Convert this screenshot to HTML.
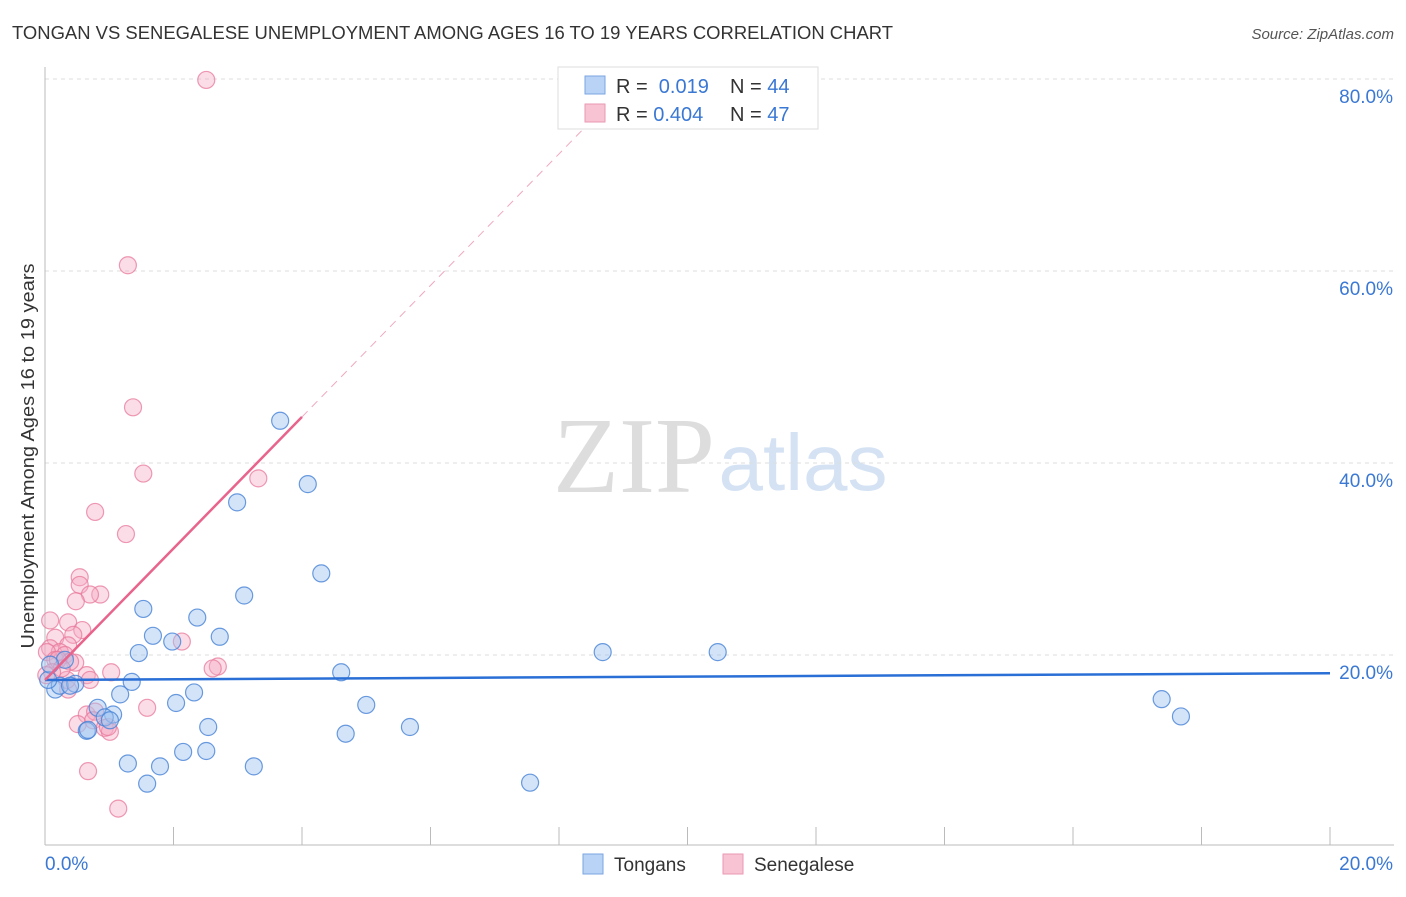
<!DOCTYPE html>
<html><head><meta charset="utf-8"><style>
body{margin:0;background:#fff;font-family:"Liberation Sans",sans-serif;}
</style></head><body>
<svg id="c" width="1406" height="892" xmlns="http://www.w3.org/2000/svg" style="font-family:'Liberation Sans',sans-serif">
<text x="12" y="39" font-size="18" fill="#333" textLength="881" lengthAdjust="spacingAndGlyphs">TONGAN VS SENEGALESE UNEMPLOYMENT AMONG AGES 16 TO 19 YEARS CORRELATION CHART</text>
<text x="1394" y="39" font-size="15" fill="#555" font-style="italic" text-anchor="end">Source: ZipAtlas.com</text>
<text x="634" y="492" font-size="108" fill="#ddd" font-family="Liberation Serif,serif" text-anchor="middle">ZIP</text>
<text x="803" y="490" font-size="80" fill="#d4e2f4" text-anchor="middle">atlas</text>
<g id="grid"></g><g id="axes"></g><g id="pts"></g><g id="trend"></g>
<text transform="translate(34,456) rotate(-90)" font-size="18" fill="#333" text-anchor="middle" textLength="385" lengthAdjust="spacingAndGlyphs">Unemployment Among Ages 16 to 19 years</text>
<g>
<rect x="558" y="67" width="260" height="62" fill="#fff" stroke="#ddd"/>
<rect x="585" y="76" width="20" height="18" fill="#b8d3f5" stroke="#7aa5e0"/>
<rect x="585" y="104" width="20" height="18" fill="#f8c4d3" stroke="#ea99b3"/>
<text x="616" y="93" font-size="20" fill="#333">R = <tspan fill="#3a78d4">&#160;0.019</tspan></text>
<text x="730" y="93" font-size="20" fill="#333">N = <tspan fill="#3a78d4">44</tspan></text>
<text x="616" y="121" font-size="20" fill="#333">R = <tspan fill="#3a78d4">0.404</tspan></text>
<text x="730" y="121" font-size="20" fill="#333">N = <tspan fill="#3a78d4">47</tspan></text>
</g>
<g>
<rect x="583" y="854" width="20" height="20" fill="#b8d3f5" stroke="#7aa5e0"/>
<text x="614" y="871" font-size="19" fill="#333">Tongans</text>
<rect x="723" y="854" width="20" height="20" fill="#f8c4d3" stroke="#ea99b3"/>
<text x="754" y="871" font-size="19" fill="#333">Senegalese</text>
</g>
</svg>
<script>
const blueX=[3.66,4.09,2.99,4.30,3.10,1.53,2.37,1.68,2.72,1.98,1.46,8.68,10.47,4.61,1.35,2.32,1.17,2.04,5.00,0.82,1.06,0.93,2.54,5.68,0.65,4.68,2.15,2.51,1.29,1.79,3.25,1.59,7.55,17.38,17.68,0.16,0.23,0.47,0.39,0.31,0.67,1.01,0.05,0.08];
const blueY=[44.4,37.8,35.9,28.5,26.2,24.8,23.9,22.0,21.9,21.4,20.2,20.3,20.3,18.2,17.2,16.1,15.9,15.0,14.8,14.5,13.8,13.5,12.5,12.5,12.1,11.8,9.9,10.0,8.7,8.4,8.4,6.6,6.7,15.4,13.6,16.4,16.8,17.0,16.8,19.5,12.2,13.2,17.4,19.0];
const pinkX=[2.51,1.29,1.37,1.53,3.32,0.78,1.26,0.54,0.54,0.86,0.70,0.48,0.08,0.36,0.58,0.44,0.16,0.36,0.08,0.23,0.03,0.31,0.16,0.47,0.39,2.13,2.69,2.61,1.03,0.65,0.70,0.36,0.34,0.65,0.78,0.51,0.75,0.93,1.01,1.59,0.98,0.67,1.14,0.20,0.26,0.11,0.02];
const pinkY=[79.9,60.6,45.8,38.9,38.4,34.9,32.6,28.1,27.3,26.3,26.3,25.6,23.6,23.4,22.6,22.1,21.8,21.0,20.7,20.3,20.3,20.0,19.5,19.2,19.3,21.4,18.8,18.6,18.2,17.9,17.4,16.4,17.4,13.8,14.1,12.8,13.2,12.4,12.0,14.5,12.5,7.9,4.0,19.5,18.6,18.2,17.9];
const yTicks=[20,40,60,80];
const yTickLabels=["20.0%","40.0%","60.0%","80.0%"];
const blueTrend=[17.4,18.1];
const pinkTrend=[17.4,6.85];
const NS="http://www.w3.org/2000/svg";
const X=v=>45+v/20*1285, Y=v=>847-v*9.6;
function mk(t,a,p){const e=document.createElementNS(NS,t);for(const k in a)e.setAttribute(k,a[k]);document.getElementById(p).appendChild(e);return e;}
yTicks.forEach((t,i)=>{
 const g=mk('line',{x1:45,x2:1394,y1:Y(t),y2:Y(t),stroke:'#ddd','stroke-dasharray':'4,4'},'grid');
 
 
 const l=mk('text',{x:1393,y:Y(t)+24,'font-size':19,fill:'#3a78d4','text-anchor':'end'},'axes');
 l.textContent=yTickLabels[i];
 
 
});
let a=mk('line',{x1:45,x2:45,y1:67,y2:845,stroke:'#bbb'},'axes');


a=mk('line',{x1:45,x2:1394,y1:845,y2:845,stroke:'#bbb'},'axes');


for(let i=0;i<=10;i++){const t=mk('line',{x1:X(i*2),x2:X(i*2),y1:827,y2:845,stroke:'#bbb'},'axes');
 
 }
let t0=mk('text',{x:45,y:870,'font-size':19,fill:'#3a78d4'},'axes');t0.textContent='0.0%';


let t1=mk('text',{x:1393,y:870,'font-size':19,fill:'#3a78d4','text-anchor':'end'},'axes');t1.textContent='20.0%';


pinkX.forEach((x,i)=>{const c=mk('circle',{cx:X(x),cy:Y(pinkY[i]),r:8.5,fill:'rgba(244,170,195,0.4)',stroke:'rgba(232,120,155,0.75)','stroke-width':1.2},'pts');
 
 });
blueX.forEach((x,i)=>{const c=mk('circle',{cx:X(x),cy:Y(blueY[i]),r:8.5,fill:'rgba(160,195,240,0.45)',stroke:'rgba(70,130,215,0.8)','stroke-width':1.2},'pts');
 
 });
let b=mk('line',{x1:X(0),y1:Y(blueTrend[0]),x2:X(20),y2:Y(blueTrend[1]),stroke:'#2a6fd6','stroke-width':2.5},'trend');


let p=mk('line',{x1:X(0),y1:Y(pinkTrend[0]),x2:X(4),y2:Y(pinkTrend[0]+pinkTrend[1]*4),stroke:'#e8648c','stroke-width':2.5},'trend');


let d=mk('line',{x1:X(4),y1:Y(pinkTrend[0]+pinkTrend[1]*4),x2:X(8.5),y2:Y(pinkTrend[0]+pinkTrend[1]*8.5),stroke:'#f0a8bd','stroke-width':1,'stroke-dasharray':'8,6'},'trend');


</script>
</body></html>
